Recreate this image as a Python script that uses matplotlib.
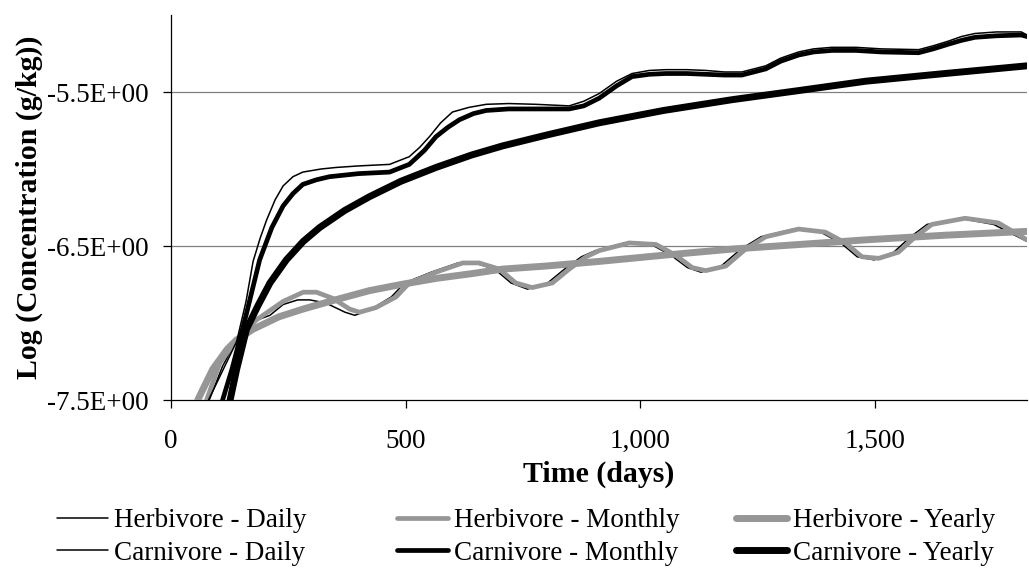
import matplotlib
matplotlib.use("Agg")
import matplotlib.pyplot as plt
from matplotlib.ticker import FixedLocator, FuncFormatter

plt.rcParams['font.family'] = ['Liberation Serif', 'DejaVu Serif']

# Herbivore series
herb_daily_t = [75, 110, 140, 175, 211, 239, 270, 296, 330, 371, 392, 427, 470, 498, 555, 612, 647,
                690, 725, 760, 803, 839, 875, 905, 967, 1024, 1066, 1101, 1130, 1173, 1215, 1258,
                1328, 1385, 1428, 1463, 1499, 1541, 1577, 1612, 1683, 1754, 1825]
herb_daily_c = [-7.55, -7.28, -7.11, -6.99, -6.95, -6.88, -6.85, -6.85, -6.87, -6.93, -6.95, -6.91,
                -6.83, -6.74, -6.67, -6.61, -6.61, -6.65, -6.74, -6.78, -6.74, -6.65, -6.57, -6.53,
                -6.48, -6.49, -6.56, -6.64, -6.67, -6.63, -6.52, -6.44, -6.39, -6.41, -6.48, -6.57,
                -6.59, -6.54, -6.44, -6.36, -6.32, -6.36, -6.47]

herb_monthly_t = [70, 104, 140, 182, 239, 282, 310, 345, 381, 402, 437, 480, 508, 565, 622, 657, 700,
                  735, 770, 813, 849, 885, 913, 977, 1034, 1076, 1111, 1140, 1183, 1225, 1268, 1338,
                  1395, 1438, 1473, 1509, 1551, 1587, 1622, 1693, 1764, 1825]
herb_monthly_c = [-7.55, -7.26, -7.11, -6.98, -6.86, -6.80, -6.80, -6.84, -6.91, -6.93, -6.90, -6.83,
                  -6.74, -6.67, -6.61, -6.61, -6.65, -6.74, -6.77, -6.74, -6.65, -6.57, -6.53, -6.48,
                  -6.49, -6.56, -6.64, -6.66, -6.63, -6.52, -6.44, -6.39, -6.41, -6.48, -6.57, -6.58,
                  -6.54, -6.44, -6.36, -6.32, -6.35, -6.46]

herb_yearly_t = [57, 89, 120, 140, 175, 230, 281, 350, 423, 490, 566, 640, 707, 800, 913, 1050, 1196,
                 1340, 1481, 1650, 1825]
herb_yearly_c = [-7.50, -7.30, -7.17, -7.11, -7.04, -6.96, -6.91, -6.85, -6.79, -6.75, -6.71, -6.68,
                 -6.65, -6.63, -6.60, -6.56, -6.52, -6.49, -6.46, -6.43, -6.405]

# Carnivore series
carn_daily_t = [80, 110, 140, 160, 175, 190, 204, 222, 239, 260, 281, 320, 352, 400, 466, 508, 530,
                551, 575, 600, 635, 672, 720, 778, 849, 880, 913, 950, 983, 1020, 1055, 1100, 1140,
                1180, 1217, 1268, 1300, 1338, 1370, 1409, 1460, 1515, 1594, 1625, 1657, 1685, 1714,
                1760, 1813, 1825]
carn_daily_c = [-7.50, -7.31, -7.12, -6.86, -6.60, -6.45, -6.33, -6.20, -6.11, -6.05, -6.02, -6.00,
                -5.99, -5.98, -5.97, -5.92, -5.86, -5.79, -5.70, -5.63, -5.60, -5.58, -5.575, -5.58,
                -5.59, -5.56, -5.51, -5.43, -5.38, -5.36, -5.355, -5.355, -5.36, -5.37, -5.37, -5.33,
                -5.28, -5.24, -5.22, -5.21, -5.21, -5.22, -5.225, -5.20, -5.17, -5.14, -5.12, -5.11,
                -5.11, -5.13]

carn_monthly_t = [100, 130, 160, 189, 215, 239, 260, 281, 310, 338, 400, 466, 508, 540, 565, 590, 615,
                  645, 672, 720, 778, 849, 880, 913, 950, 983, 1020, 1055, 1100, 1140, 1180, 1217,
                  1268, 1300, 1338, 1370, 1409, 1460, 1515, 1594, 1625, 1657, 1685, 1714, 1760, 1813,
                  1825]
carn_monthly_c = [-7.60, -7.30, -6.95, -6.59, -6.38, -6.24, -6.16, -6.10, -6.07, -6.05, -6.03, -6.02,
                  -5.97, -5.88, -5.79, -5.73, -5.68, -5.64, -5.62, -5.61, -5.61, -5.61, -5.59, -5.54,
                  -5.46, -5.40, -5.385, -5.38, -5.38, -5.385, -5.39, -5.39, -5.35, -5.30, -5.26, -5.24,
                  -5.23, -5.23, -5.24, -5.245, -5.22, -5.19, -5.165, -5.145, -5.135, -5.13, -5.14]

carn_yearly_t = [126, 140, 161, 185, 211, 246, 282, 317, 370, 423, 490, 565, 640, 707, 800, 913, 1050,
                 1196, 1340, 1481, 1650, 1825]
carn_yearly_c = [-7.50, -7.30, -7.04, -6.89, -6.74, -6.59, -6.47, -6.38, -6.27, -6.18, -6.08, -5.99,
                 -5.91, -5.85, -5.78, -5.70, -5.62, -5.55, -5.49, -5.43, -5.38, -5.33]

x_ticks = [0, 500, 1000, 1500]
y_ticks = [-7.5, -6.5, -5.5]

GRAY = '#969696'
FS = 19.5
FS_TITLE = 21.5

fig = plt.figure(figsize=(10.29, 5.79), dpi=100)
W, H = 1029, 579
ax = fig.add_axes([171 / W, 1 - 400 / H, (1027 - 171) / W, (400 - 15) / H])

series = [
    (herb_daily_t, herb_daily_c, 'Herbivore - Daily', 'black', 1.1),
    (herb_monthly_t, herb_monthly_c, 'Herbivore - Monthly', GRAY, 3.4),
    (herb_yearly_t, herb_yearly_c, 'Herbivore - Yearly', GRAY, 5.0),
    (carn_daily_t, carn_daily_c, 'Carnivore - Daily', 'black', 1.1),
    (carn_monthly_t, carn_monthly_c, 'Carnivore - Monthly', 'black', 3.4),
    (carn_yearly_t, carn_yearly_c, 'Carnivore - Yearly', 'black', 5.0),
]
handles = {}
for i, (t, c, name, col, lw) in enumerate(series):
    ln, = ax.plot(t, c, color=col, lw=lw, solid_joinstyle='round', solid_capstyle='round',
                  label=name, zorder=3 + i)
    handles[name] = ln

ax.set_xlim(0, 1825)
ax.set_ylim(-7.5, -5.0)

for s in ['top', 'right']:
    ax.spines[s].set_visible(False)
for s in ['left', 'bottom']:
    ax.spines[s].set_color('black')
    ax.spines[s].set_linewidth(0.9)
    ax.spines[s].set_zorder(2)

ax.xaxis.set_major_locator(FixedLocator(x_ticks))
ax.yaxis.set_major_locator(FixedLocator(y_ticks))
ax.xaxis.set_major_formatter(FuncFormatter(lambda v, p: f"{int(v):,}"))
ax.yaxis.set_major_formatter(FuncFormatter(lambda v, p: f"{v:.1f}E+00"))
ax.tick_params(axis='both', direction='out', length=6, width=0.9, labelsize=FS, colors='black')
ax.tick_params(axis='x', pad=15)
ax.tick_params(axis='y', pad=10)

for yv in [-6.5, -5.5]:
    ax.axhline(yv, color='#808080', lw=0.9, zorder=1)

ax.set_xlabel('Time (days)', fontsize=FS_TITLE, fontweight='bold')
ax.set_ylabel('Log (Concentration (g/kg))', fontsize=FS_TITLE, fontweight='bold')
ax.xaxis.set_label_coords(0.5, -0.158)
ax.yaxis.set_label_coords(-0.15, 0.5)

# Legend: three columns, two rows (herbivore on top, carnivore below)
columns = [
    (57, ['Herbivore - Daily', 'Carnivore - Daily']),
    (397, ['Herbivore - Monthly', 'Carnivore - Monthly']),
    (736, ['Herbivore - Yearly', 'Carnivore - Yearly']),
]
for x0, names in columns:
    leg = fig.legend([handles[k] for k in names], names, loc='upper left',
                     bbox_to_anchor=(x0 / W, 1 - 508 / H), ncol=1, frameon=False,
                     fontsize=FS, handlelength=1.9, handletextpad=0.2,
                     labelspacing=0.28, borderaxespad=0, borderpad=0)

fig.savefig('out.png', dpi=100)
